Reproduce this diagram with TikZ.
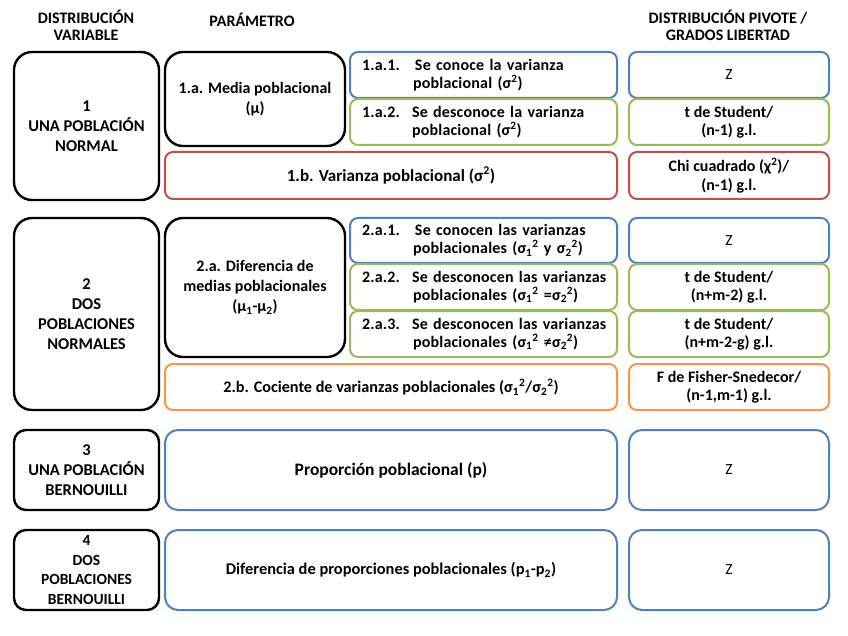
\documentclass[tikz,border=0pt]{standalone}
\usepackage{fontspec}
\setmainfont{Carlito}
\definecolor{obl}{HTML}{4F81BD}
\definecolor{ogr}{HTML}{9BBB59}
\definecolor{ord}{HTML}{C0504D}
\definecolor{oor}{HTML}{F79646}
\newcommand\mybox[7]{%
  \node[#6, minimum width={(#4-#2)*1pt}, minimum height={(#5-#3)*1pt}] (#1) at ({(#2+#4)/2},{(#3+#5)/2}) {#7};}
\newcommand\lab[2]{\makebox[#1pt][l]{#2}}
\begin{document}
\begin{tikzpicture}[x=1pt,y=-1pt,
  fs/.style={font=\fontsize{#1}{20}\selectfont\bfseries},
  every node/.style={fs=16, align=center, inner sep=0pt, outer sep=0pt},
  bigblack/.style={draw=black, line width=2.4pt, rounded corners=18pt},
  midblack/.style={draw=black, line width=2.4pt, rounded corners=12pt},
  blu/.style={draw=obl, line width=2pt, rounded corners=8pt},
  grn/.style={draw=ogr, line width=2pt, rounded corners=8pt},
  rd/.style={draw=ord, line width=2pt, rounded corners=8pt},
  org/.style={draw=oor, line width=2pt, rounded corners=8pt},
  bigblu/.style={draw=obl, line width=2pt, rounded corners=13pt},
  sub/.style={text width=243pt, align=left, font=\fontsize{16}{18}\selectfont\bfseries\addfontfeature{LetterSpace=1.2}},
  rt/.style={font=\fontsize{16}{18.5}\selectfont\bfseries},
  hdr/.style={font=\fontsize{16}{17}\selectfont\bfseries},
  zed/.style={font=\fontsize{15.5}{19}\selectfont}
]
\useasboundingbox (0,0) rectangle (848,636);
% headers
\node[hdr] (h1) at (86,25) {DISTRIBUCIÓN\\VARIABLE};
\node[hdr] (h2) at (252,20) {PARÁMETRO};
\node[hdr] (h3) at (728,25) {DISTRIBUCIÓN PIVOTE /\\GRADOS LIBERTAD};
% row 1
\mybox{c1}{14}{52}{159}{200}{bigblack,fs=16.5}{1\\UNA POBLACIÓN\\NORMAL}
\mybox{p1a}{165}{52}{345}{146}{bigblack}{1.a. Media poblacional\\(μ)}
\mybox{s1a1}{350}{52}{617}{98}{blu,sub}{\lab{53}{1.a.1.}\mbox{Se conoce la varianza}\\\hspace*{51pt}\mbox{poblacional (σ\textsuperscript{2})}}
\mybox{s1a2}{350}{99}{617}{145}{grn,sub}{\lab{50}{1.a.2.}\mbox{Se desconoce la varianza}\\\hspace*{50pt}\mbox{poblacional (σ\textsuperscript{2})}}
\mybox{p1b}{165}{152}{617}{199}{rd,fs=17}{1.b. Varianza poblacional (σ\textsuperscript{2})}
\mybox{d1a1}{629}{52}{829}{98}{blu,zed}{Z}
\mybox{d1a2}{629}{99}{829}{145}{grn,rt}{t de Student/\\(n-1) g.l.}
\mybox{d1b}{629}{152}{829}{199}{rd,rt}{Chi cuadrado (χ\textsuperscript{2})/\\(n-1) g.l.}
% row 2
\mybox{c2}{14}{218}{159}{410}{bigblack,fs=16.5}{2\\DOS\\POBLACIONES\\NORMALES}
\mybox{p2a}{165}{218}{345}{357}{bigblack}{2.a. Diferencia de\\medias poblacionales\\(μ\textsubscript{1}-μ\textsubscript{2})}
\mybox{s2a1}{350}{218}{617}{263}{blu,sub}{\lab{53}{2.a.1.}\mbox{Se conocen las varianzas}\\\hspace*{51pt}\mbox{poblacionales (σ\textsubscript{1}\textsuperscript{2} y σ\textsubscript{2}\textsuperscript{2})}}
\mybox{s2a2}{350}{264}{617}{310}{grn,sub}{\lab{50}{2.a.2.}\mbox{Se desconocen las varianzas}\\\hspace*{51pt}\mbox{poblacionales (σ\textsubscript{1}\textsuperscript{2} =σ\textsubscript{2}\textsuperscript{2})}}
\mybox{s2a3}{350}{311}{617}{357}{grn,sub}{\lab{50}{2.a.3.}\mbox{Se desconocen las varianzas}\\\hspace*{51pt}\mbox{poblacionales (σ\textsubscript{1}\textsuperscript{2} ≠σ\textsubscript{2}\textsuperscript{2})}}
\mybox{p2b}{165}{364}{617}{410}{org,fs=16.2}{2.b. Cociente de varianzas poblacionales (σ\textsubscript{1}\textsuperscript{2}/σ\textsubscript{2}\textsuperscript{2})}
\mybox{d2a1}{629}{218}{829}{263}{blu,zed}{Z}
\mybox{d2a2}{629}{264}{829}{310}{grn,rt}{t de Student/\\(n+m-2) g.l.}
\mybox{d2a3}{629}{311}{829}{357}{grn,rt}{t de Student/\\(n+m-2-g) g.l.}
\mybox{d2b}{629}{364}{829}{410}{org,rt}{F de Fisher-Snedecor/\\(n-1,m-1) g.l.}
% row 3
\mybox{c3}{14}{430}{159}{510}{midblack,fs=16.5}{3\\UNA POBLACIÓN\\BERNOUILLI}
\mybox{p3}{165}{430}{617}{510}{bigblu,fs=17.5}{Proporción poblacional (p)}
\mybox{d3}{629}{430}{829}{510}{bigblu,zed}{Z}
% row 4
\mybox{c4}{14}{530}{159}{610}{midblack,font=\fontsize{15.5}{19.5}\selectfont\bfseries}{4\\DOS\\POBLACIONES\\BERNOUILLI}
\mybox{p4}{165}{530}{617}{610}{bigblu,fs=16.4}{Diferencia de proporciones poblacionales (p\textsubscript{1}-p\textsubscript{2})}
\mybox{d4}{629}{530}{829}{610}{bigblu,zed}{Z}
\end{tikzpicture}
\end{document}
